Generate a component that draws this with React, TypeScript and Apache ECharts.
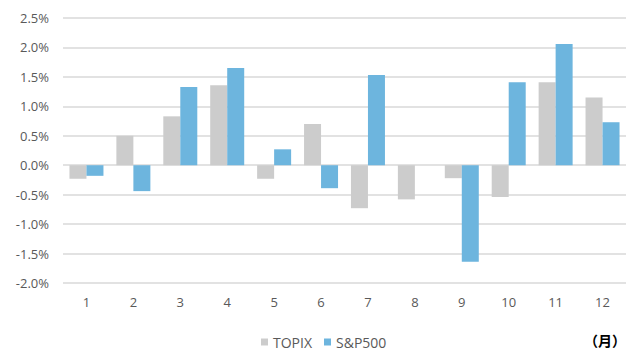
import React, { useEffect, useRef } from "react";
import * as echarts from "echarts";

const months = ["1", "2", "3", "4", "5", "6", "7", "8", "9", "10", "11", "12"];
const topix = [-0.23, 0.5, 0.83, 1.36, -0.23, 0.7, -0.73, -0.58, -0.22, -0.54, 1.41, 1.15];
const sp500 = [-0.18, -0.44, 1.33, 1.65, 0.27, -0.39, 1.53, 0, -1.64, 1.41, 2.06, 0.73];
const seriesNames = ["TOPIX", "S&P500"];
const unitLabel = "（月）";

export default function App() {
  const ref = useRef<HTMLDivElement>(null);
  useEffect(() => {
    if (!ref.current) return;
    const chart = echarts.init(ref.current, undefined, { renderer: "svg" });
    const font = "'Open Sans', 'Noto Sans', sans-serif";
    chart.setOption({
      animation: false,
      textStyle: { fontFamily: font },
      grid: { left: 63, right: 4, top: 18, bottom: 68, containLabel: false },
      legend: {
        data: seriesNames,
        left: 261,
        top: 334,
        padding: 0,
        itemWidth: 7,
        itemHeight: 7,
        itemGap: 12,
        icon: "rect",
        textStyle: { color: "#595959", fontSize: 14, fontFamily: font, lineHeight: 16 },
      },
      xAxis: {
        type: "category",
        data: months,
        axisLine: { show: false },
        axisTick: { show: false },
        axisLabel: { color: "#595959", fontSize: 13, margin: 12, fontFamily: font },
      },
      yAxis: {
        type: "value",
        min: -2,
        max: 2.5,
        interval: 0.5,
        axisLine: { show: false },
        axisTick: { show: false },
        splitLine: { lineStyle: { color: "#d9d9d9", width: 1.5 } },
        axisLabel: {
          color: "#595959",
          fontSize: 13,
          margin: 14,
          fontFamily: font,
          formatter: (v: number) => v.toFixed(1) + "%",
        },
      },
      graphic: [
        {
          type: "text",
          right: 4,
          top: 333,
          style: { text: unitLabel, fontSize: 14, fontWeight: "bold", fill: "#000", fontFamily: "'Noto Sans CJK JP', sans-serif" },
        },
      ],
      series: [
        {
          name: seriesNames[0],
          type: "bar",
          data: topix,
          barWidth: 17,
          barGap: "0%",
          itemStyle: { color: "#cccccc" },
        },
        {
          name: seriesNames[1],
          type: "bar",
          data: sp500,
          barWidth: 17,
          barGap: "0%",
          itemStyle: { color: "#6db5de" },
        },
      ],
    });
    return () => chart.dispose();
  }, []);
  return <div ref={ref} style={{ width: 630, height: 351, position: "absolute", left: 0, top: 0 }} />;
}
